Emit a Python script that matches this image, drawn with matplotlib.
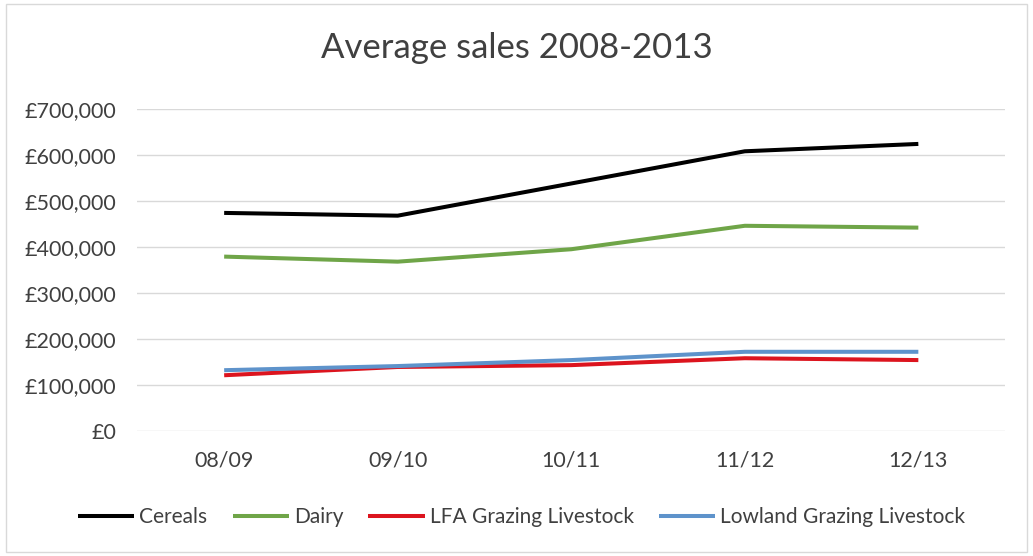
import matplotlib.pyplot as plt
from matplotlib.patches import Rectangle
from matplotlib.ticker import FuncFormatter

plt.rcParams['font.family'] = ['Lato', 'DejaVu Sans']

years = ['08/09', '09/10', '10/11', '11/12', '12/13']
cereals = [474000, 468000, 538000, 608000, 624000]
dairy = [379000, 368000, 395000, 446000, 442000]
lfa = [121000, 139000, 143000, 158000, 154000]
lowland = [132000, 141000, 154000, 172000, 172000]

series = [
    ('Cereals', cereals, '#000000'),
    ('Dairy', dairy, '#6FA548'),
    ('LFA Grazing Livestock', lfa, '#DC141E'),
    ('Lowland Grazing Livestock', lowland, '#5E93CB'),
]

fig = plt.figure(figsize=(10.33, 5.56), dpi=100)
ax = fig.add_axes([0.133, 0.225, 0.84, 0.579])

x = range(len(years))
for name, vals, col in series:
    ax.plot(x, vals, color=col, linewidth=2.9, label=name, solid_capstyle='butt')

ax.set_xlim(-0.5, len(years) - 0.5)
ax.set_ylim(0, 700000)
ax.set_yticks(range(0, 700001, 100000))
ax.yaxis.set_major_formatter(FuncFormatter(lambda v, p: f'£{int(v):,}'))
ax.set_xticks(list(x))
ax.set_xticklabels(years)
ax.grid(axis='y', color='#D9D9D9', linewidth=1)
ax.set_axisbelow(True)
for s in ax.spines.values():
    s.set_visible(False)
ax.tick_params(length=0, labelsize=15.5, colors='#404040')
ax.tick_params(axis='y', pad=15)
ax.tick_params(axis='x', pad=14)

fig.text(0.5, 0.914, 'Average sales 2008-2013', ha='center', va='center',
         fontsize=25, color='#404040')

fig.legend(loc='center', bbox_to_anchor=(0.505, 0.07), ncol=4, frameon=False,
           fontsize=15, handlelength=2.7, columnspacing=1.2, handletextpad=0.25,
           labelcolor='#404040')

fig.patches.append(Rectangle((0.006, 0.008), 0.988, 0.984, transform=fig.transFigure,
                             fill=False, edgecolor='#D9D9D9', linewidth=1))

plt.savefig('out.png', dpi=100)
